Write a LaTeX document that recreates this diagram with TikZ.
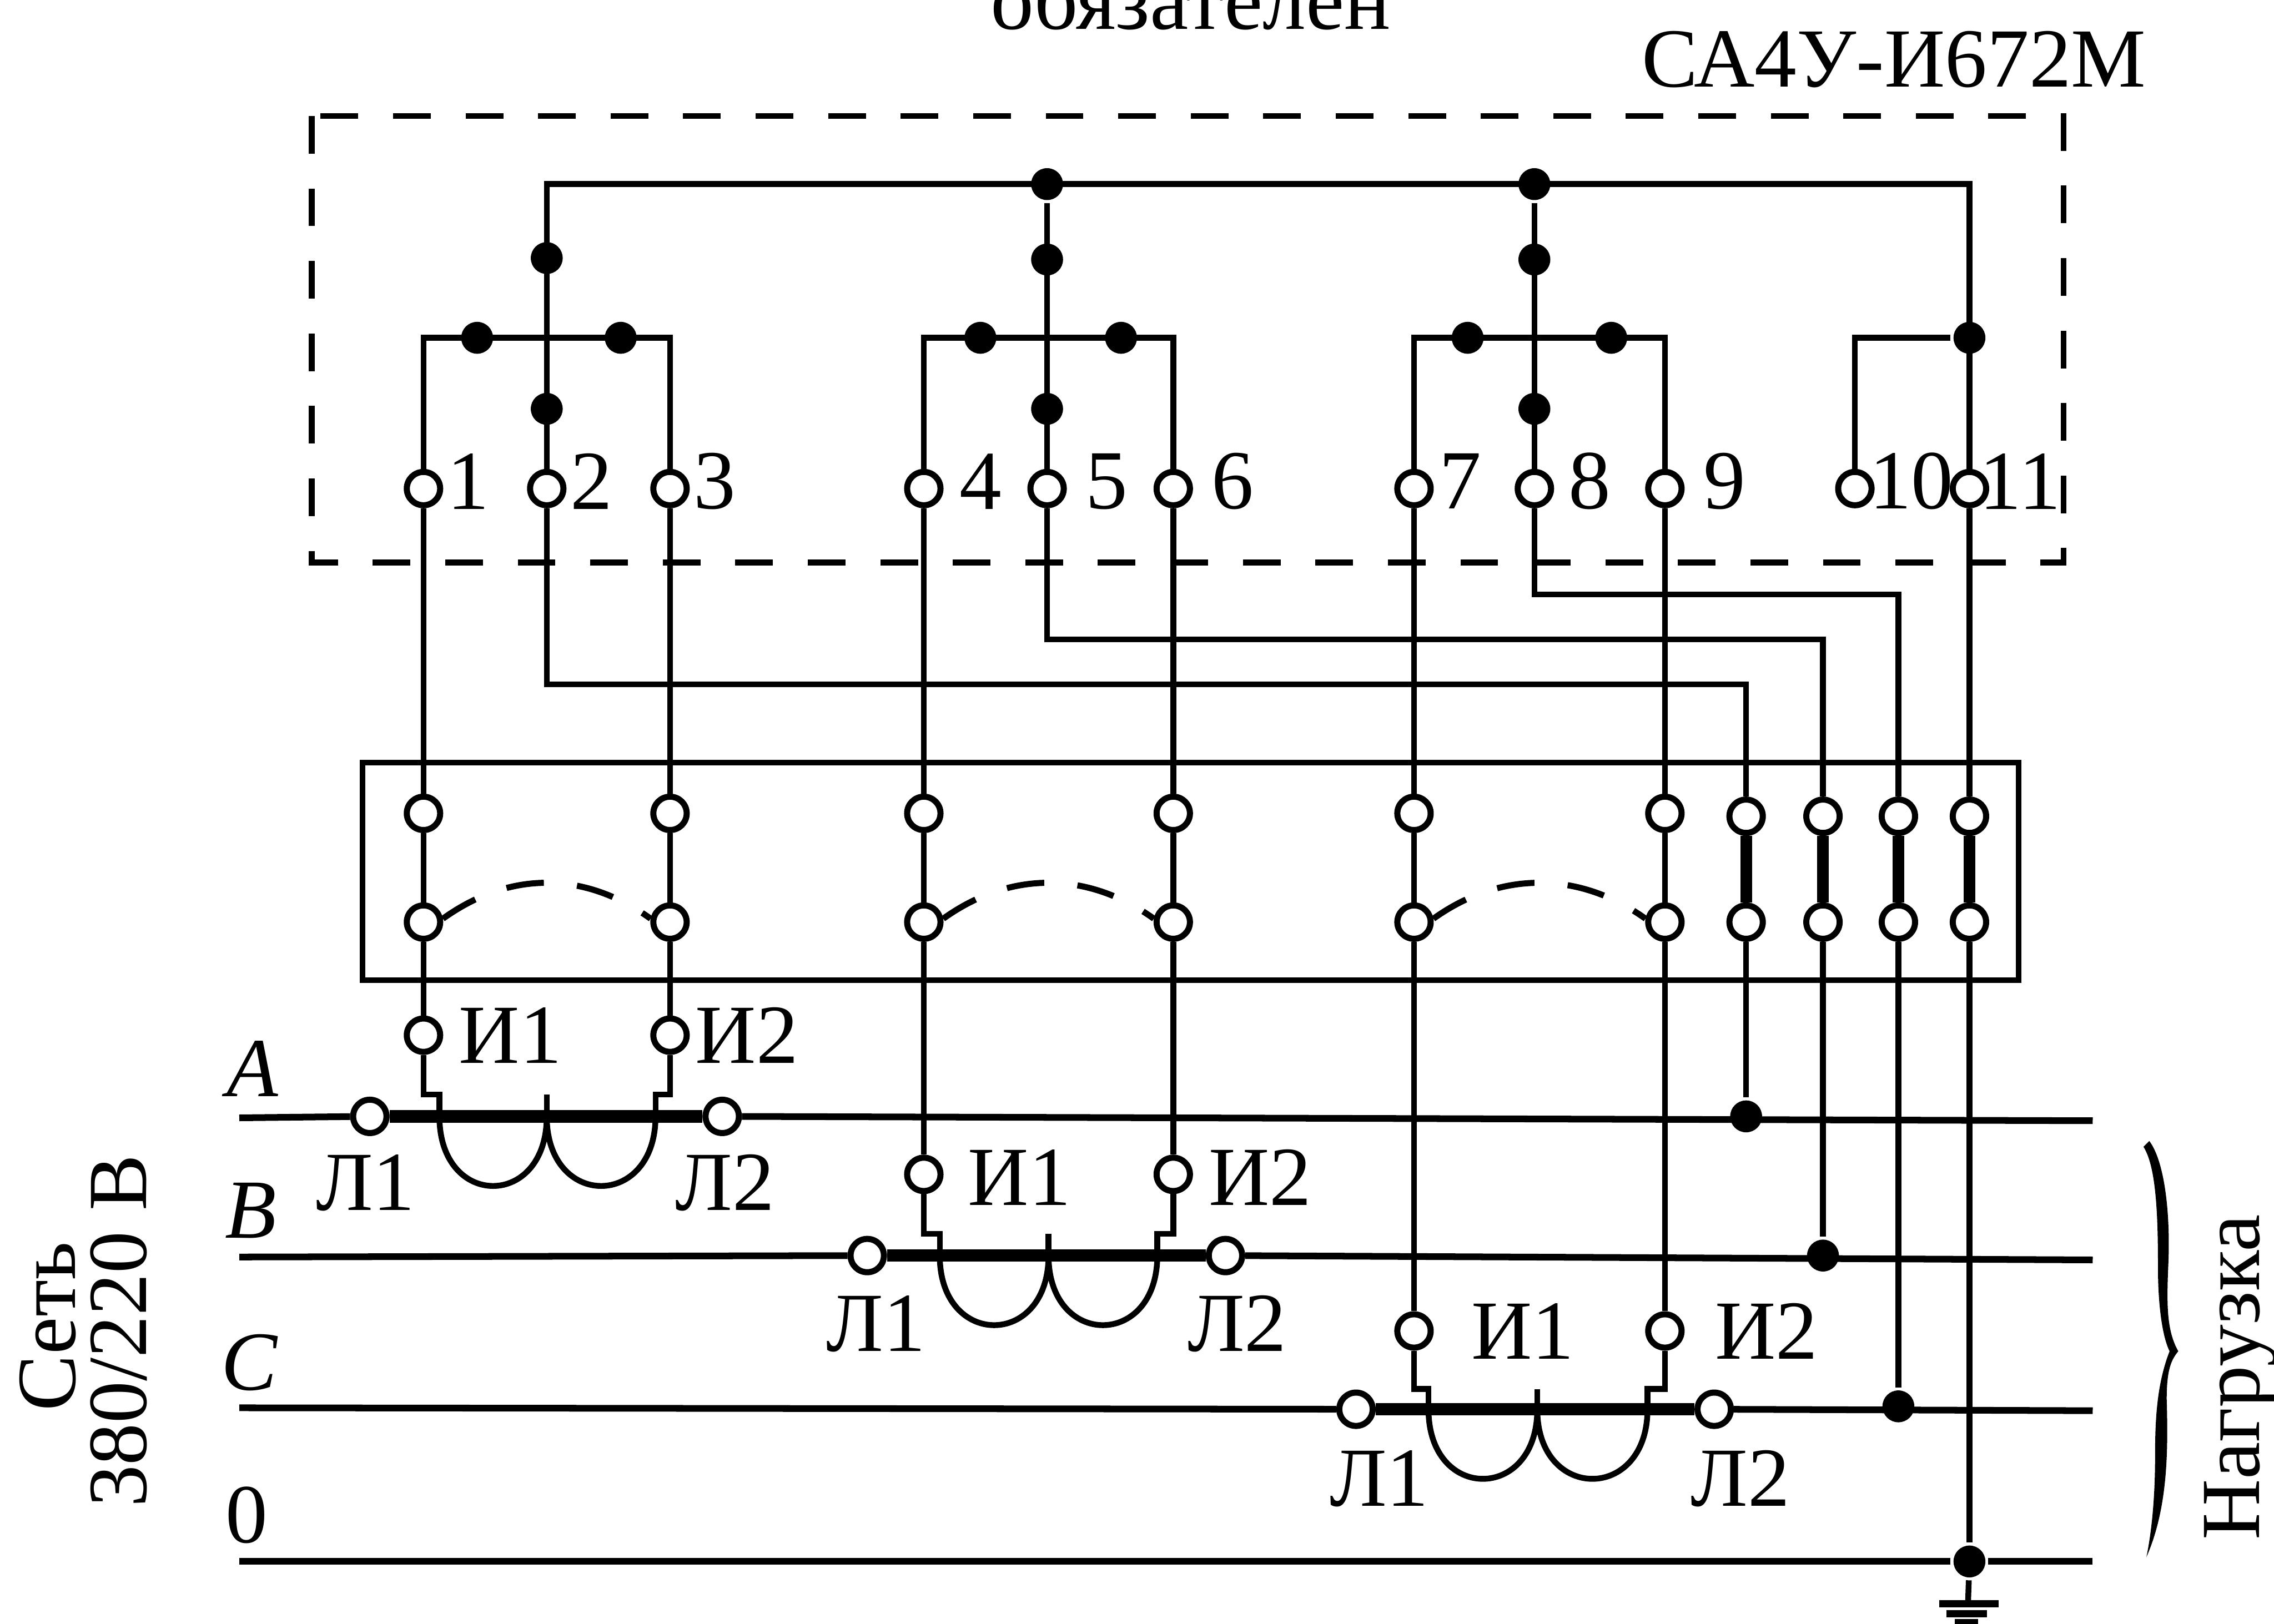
\documentclass[tikz,border=0pt]{standalone}
\usepackage{fontspec}
\setmainfont{Liberation Serif}

\tikzset{
  term/.style={circle,draw,fill=white,inner sep=0pt,minimum size=2.3mm,line width=.42mm},
  junc/.style={circle,fill=black,inner sep=0pt,minimum size=2.2mm},
  lab/.style={inner sep=0pt,font=\fontsize{16.5}{18}\selectfont},
  phase/.style={line width=.46mm},
  bar/.style={line width=.85mm},
  link/.style={line width=.8mm},
  frame/.style={line width=.4mm,dash pattern=on 2.6mm off 2.4mm},
  swing/.style={line width=.42mm,dash pattern=on 2.6mm off 2.3mm},
  gnd/.style={line width=.5mm}
}

\begin{document}
\begin{tikzpicture}[x=.1mm,y=-.1mm,line width=.4mm]

      \useasboundingbox (0,0) rectangle (1568,1120);
      \clip (0,0) rectangle (1568,1120);

      \draw[frame] (215,80) rectangle (1423,388);
      \draw (250,526) rectangle (1392,676);

      \begin{scope}[every node/.style={term}]
        % meter
        \node (m1)  at (292,337)  {};
        \node (m2)  at (377,337)  {};
        \node (m3)  at (462,337)  {};
        \node (m4)  at (637,337)  {};
        \node (m5)  at (722,337)  {};
        \node (m6)  at (809,337)  {};
        \node (m7)  at (975,337)  {};
        \node (m8)  at (1058,337) {};
        \node (m9)  at (1148,337) {};
        \node (m10) at (1279,337) {};
        \node (m11) at (1358,337) {};
        % test box
        \node (p1)  at (292,561)  {};
        \node (p3)  at (462,561)  {};
        \node (p4)  at (637,561)  {};
        \node (p6)  at (809,561)  {};
        \node (p7)  at (975,561)  {};
        \node (p9)  at (1148,561) {};
        \node (p2)  at (1204,563) {};
        \node (p5)  at (1257,563) {};
        \node (p8)  at (1309,563) {};
        \node (p11) at (1358,563) {};
        \node (q1)  at (292,636)  {};
        \node (q3)  at (462,636)  {};
        \node (q4)  at (637,636)  {};
        \node (q6)  at (809,636)  {};
        \node (q7)  at (975,636)  {};
        \node (q9)  at (1148,636) {};
        \node (q2)  at (1204,636) {};
        \node (q5)  at (1257,636) {};
        \node (q8)  at (1309,636) {};
        \node (q11) at (1358,636) {};
        % transformers
        \node (ia1) at (292,714)  {};
        \node (ia2) at (462,714)  {};
        \node (ib1) at (637,810)  {};
        \node (ib2) at (809,810)  {};
        \node (ic1) at (975,918)  {};
        \node (ic2) at (1148,918) {};
        \node (la1) at (255,770)  {};
        \node (la2) at (498,770)  {};
        \node (lb1) at (598,866)  {};
        \node (lb2) at (845,866)  {};
        \node (lc1) at (935,972)  {};
        \node (lc2) at (1182,972) {};
      \end{scope}

      \begin{scope}[every node/.style={junc}]
        \node (d1)  at (722,127)  {};
        \node (d2)  at (1058,127) {};
        \node (d3)  at (377,178)  {};
        \node (d4)  at (722,179)  {};
        \node (d5)  at (1058,179) {};
        \node (d6)  at (329,233)  {};
        \node (d7)  at (428,233)  {};
        \node (d8)  at (676,233)  {};
        \node (d9)  at (773,233)  {};
        \node (d10) at (1012,233) {};
        \node (d11) at (1111,233) {};
        \node (d12) at (1358,233) {};
        \node (d13) at (377,282)  {};
        \node (d14) at (722,282)  {};
        \node (d15) at (1058,282) {};
        \node (d16) at (1204,770) {};
        \node (d17) at (1257,866) {};
        \node (d18) at (1309,970) {};
        \node (d19) at (1358,1077) {};
      \end{scope}

      \coordinate (tl) at (377,127);
      \coordinate (tr) at (1358,127);
      \coordinate (b1) at (292,233);
      \coordinate (b3) at (462,233);
      \coordinate (b4) at (637,233);
      \coordinate (b6) at (809,233);
      \coordinate (b7) at (975,233);
      \coordinate (b9) at (1148,233);
      \coordinate (w2) at (377,472);
      \coordinate (w5) at (722,441);
      \coordinate (w8) at (1058,410);

      \coordinate (ea1) at (303,755);
      \coordinate (ea2) at (452,755);
      \coordinate (ea3) at (377,755);
      \coordinate (ca1) at (303,770);
      \coordinate (ca2) at (452,770);
      \coordinate (ca3) at (377,770);
      \coordinate (eb1) at (648,851);
      \coordinate (eb2) at (798,851);
      \coordinate (eb3) at (723,851);
      \coordinate (cb1) at (648,866);
      \coordinate (cb2) at (798,866);
      \coordinate (cb3) at (723,866);
      \coordinate (ec1) at (985,958);
      \coordinate (ec2) at (1136,958);
      \coordinate (ec3) at (1060,958);
      \coordinate (cc1) at (985,972);
      \coordinate (cc2) at (1136,972);
      \coordinate (cc3) at (1060,972);

      \coordinate (ls1) at (165,771);
      \coordinate (ls2) at (165,867);
      \coordinate (ls3) at (165,971);
      \coordinate (ls4) at (165,1077);
      \coordinate (le1) at (1443,773);
      \coordinate (le2) at (1443,869);
      \coordinate (le3) at (1443,973);
      \coordinate (le4) at (1443,1077);
      \coordinate (g1) at (1357,1106);
      \coordinate (g2) at (1356,1113);
      \coordinate (g3) at (1356,1119);

      \begin{scope}[every edge/.style={draw}]
        \path (m1)  edge (p1);
        \path (p1)  edge (q1);
        \path (q1)  edge (ia1);
        \path (m3)  edge (p3);
        \path (p3)  edge (q3);
        \path (q3)  edge (ia2);
        \path (m4)  edge (p4);
        \path (p4)  edge (q4);
        \path (q4)  edge (ib1);
        \path (m6)  edge (p6);
        \path (p6)  edge (q6);
        \path (q6)  edge (ib2);
        \path (m7)  edge (p7);
        \path (p7)  edge (q7);
        \path (q7)  edge (ic1);
        \path (m9)  edge (p9);
        \path (p9)  edge (q9);
        \path (q9)  edge (ic2);
        \path (q2)  edge (d16);
        \path (q5)  edge (d17);
        \path (q8)  edge (d18);
        \path (q11) edge (d19);
        \path (m5)  edge (d1);
        \path (m8)  edge (d2);
        \path (m11) edge (p11);
        \path (d19) edge (g1);
      \end{scope}

      \begin{scope}[every edge/.style={draw,link}]
        \path (p2)  edge (q2);
        \path (p5)  edge (q5);
        \path (p8)  edge (q8);
        \path (p11) edge (q11);
      \end{scope}

      \draw (m2) -- (tl) -- (tr) -- (m11);
      \draw (m1) -- (b1) -- (b3) -- (m3);
      \draw (m4) -- (b4) -- (b6) -- (m6);
      \draw (m7) -- (b7) -- (b9) -- (m9);
      \draw (m10) |- (d12);
      \draw (m2) -- (w2) -| (p2);
      \draw (m5) -- (w5) -| (p5);
      \draw (m8) -- (w8) -| (p8);

      \draw (ia1) |- (ea1) -- (ca1);
      \draw (ia2) |- (ea2) -- (ca2);
      \draw (ib1) |- (eb1) -- (cb1);
      \draw (ib2) |- (eb2) -- (cb2);
      \draw (ic1) |- (ec1) -- (cc1);
      \draw (ic2) |- (ec2) -- (cc2);

      \draw (ea3) -- (ca3);
      \draw (eb3) -- (cb3);
      \draw (ec3) -- (cc3);

      \draw (ca1) .. controls +(0,64) and +(0,64) .. (ca3) .. controls +(0,64) and +(0,64) .. (ca2);
      \draw (cb1) .. controls +(0,64) and +(0,64) .. (cb3) .. controls +(0,64) and +(0,64) .. (cb2);
      \draw (cc1) .. controls +(0,64) and +(0,64) .. (cc3) .. controls +(0,64) and +(0,64) .. (cc2);

      \draw[swing] (q1.10) .. controls +(46,-33) and +(-46,-33) .. (q3.170);
      \draw[swing] (q4.10) .. controls +(46,-33) and +(-46,-33) .. (q6.170);
      \draw[swing] (q7.10) .. controls +(46,-33) and +(-46,-33) .. (q9.170);

      \draw[bar] (la1) -- (la2);
      \draw[bar] (lb1) -- (lb2);
      \draw[bar] (lc1) -- (lc2);

      \draw[phase] (ls1) -- (la1);
      \draw[phase] (la2) -- (le1);
      \draw[phase] (ls2) -- (lb1);
      \draw[phase] (lb2) -- (le2);
      \draw[phase] (ls3) -- (lc1);
      \draw[phase] (lc2) -- (le3);
      \draw[phase] (ls4) -- (d19) -- (le4);

      \draw[gnd] (g1) ++(-20,0) -- ++(41,0);
      \draw[gnd] (g2) ++(-14,0) -- ++(28,0);
      \draw[gnd] (g3) ++(-8,0) -- ++(16,0);

      % load brace
      \fill (1482,787) .. controls (1492,800) and (1497,835) .. (1495,875)
        .. controls (1494,900) and (1494,918) .. (1502,932)
        .. controls (1497,938) and (1494,945) .. (1494,965)
        .. controls (1495,1000) and (1495,1040) .. (1480,1074)
        .. controls (1484,1055) and (1486,1030) .. (1486,1005)
        .. controls (1486,980) and (1487,955) .. (1496,932)
        .. controls (1491,922) and (1488,900) .. (1488,875)
        .. controls (1488,840) and (1487,805) .. (1478,791) -- cycle;

      \begin{scope}[every node/.style={lab}]
        \node (n1)  at (323,332)  {1};
        \node (n2)  at (408,332)  {2};
        \node (n3)  at (493,332)  {3};
        \node (n4)  at (676,332)  {4};
        \node (n5)  at (763,332)  {5};
        \node (n6)  at (850,332)  {6};
        \node (n7)  at (1007,332) {7};
        \node (n8)  at (1096,332) {8};
        \node (n9)  at (1189,332) {9};
        \node (n10) at (1318,332) {10};
        \node (n11) at (1393,332) {11};

        \node (na1) at (352,714)  {И1};
        \node (na2) at (515,714)  {И2};
        \node (nb1) at (703,812)  {И1};
        \node (nb2) at (869,812)  {И2};
        \node (nc1) at (1050,918) {И1};
        \node (nc2) at (1218,918) {И2};
        \node (oa1) at (252,816)  {Л1};
        \node (oa2) at (500,816)  {Л2};
        \node (ob1) at (604,913)  {Л1};
        \node (ob2) at (853,913)  {Л2};
        \node (oc1) at (951,1020) {Л1};
        \node (oc2) at (1200,1020) {Л2};

        \node (fa) at (174,737)  {\itshape A};
        \node (fb) at (173,835)  {\itshape B};
        \node (fc) at (172,940)  {\itshape C};
        \node (f0) at (170,1045) {0};

        \node (title) [anchor=base,font=\fontsize{17}{18}\selectfont] at (821,20)  {обязателен};
        \node (type)  [anchor=base] at (1306,60) {СА4У-И672М};
        \node (net)   [anchor=base,rotate=90] at (52,915)   {Сеть};
        \node (volt)  [anchor=base,rotate=90] at (101,918)  {380/220 В};
        \node (load)  [anchor=base,rotate=90] at (1558,950) {Нагрузка};
      \end{scope}

    \end{tikzpicture}
\end{document}
